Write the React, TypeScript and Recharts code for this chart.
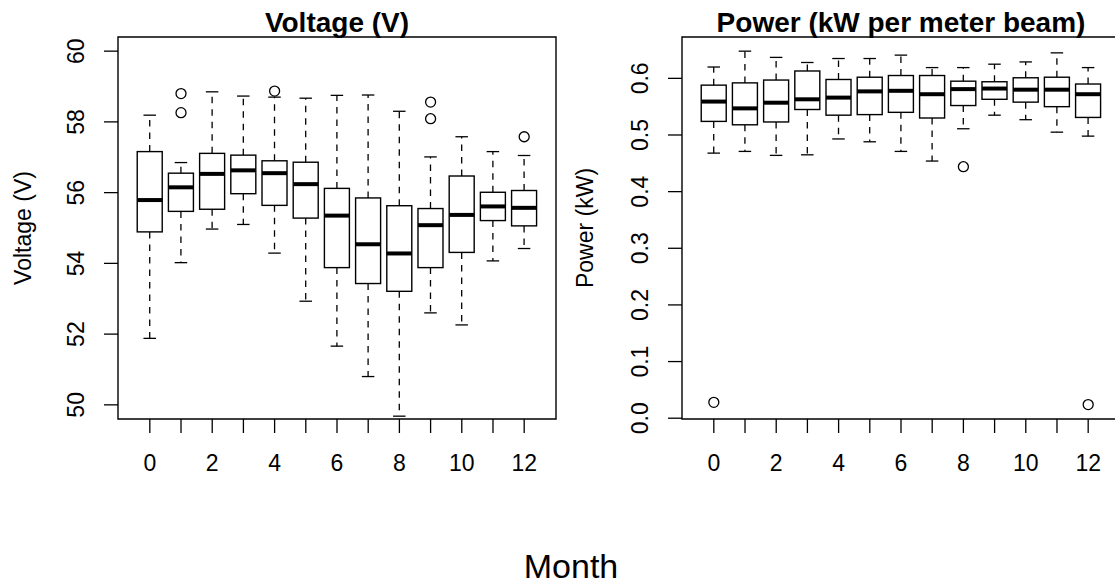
import React from 'react';
import { ComposedChart, Bar, Scatter, XAxis, YAxis, ReferenceArea } from 'recharts';

// ---- data ----
const months = [0, 1, 2, 3, 4, 5, 6, 7, 8, 9, 10, 11, 12];

const voltMin = [51.88, 54.02, 54.97, 55.10, 54.29, 52.93, 51.66, 50.80, 49.68, 52.60, 52.26, 54.07, 54.42];
const voltQ1 = [54.89, 55.47, 55.53, 55.97, 55.64, 55.28, 53.88, 53.43, 53.21, 53.88, 54.31, 55.21, 55.06];
const voltMed = [55.79, 56.15, 56.53, 56.63, 56.55, 56.24, 55.35, 54.54, 54.28, 55.08, 55.37, 55.61, 55.57];
const voltQ3 = [57.16, 56.55, 57.11, 57.06, 56.90, 56.86, 56.12, 55.85, 55.63, 55.55, 56.47, 56.01, 56.06];
const voltMax = [58.19, 56.85, 58.85, 58.73, 58.70, 58.67, 58.75, 58.76, 58.30, 57.01, 57.58, 57.16, 57.05];
const voltOutMonths = [1, 1, 4, 9, 9, 12];
const voltOutValues = [58.80, 58.26, 58.87, 58.56, 58.09, 57.58];

const powerMin = [0.468, 0.471, 0.464, 0.465, 0.493, 0.488, 0.471, 0.454, 0.511, 0.535, 0.527, 0.505, 0.498];
const powerQ1 = [0.524, 0.518, 0.523, 0.545, 0.535, 0.536, 0.540, 0.530, 0.552, 0.563, 0.558, 0.550, 0.531];
const powerMed = [0.559, 0.547, 0.557, 0.563, 0.566, 0.577, 0.578, 0.572, 0.581, 0.582, 0.580, 0.580, 0.572];
const powerQ3 = [0.588, 0.592, 0.597, 0.613, 0.598, 0.602, 0.605, 0.605, 0.595, 0.594, 0.601, 0.602, 0.590];
const powerMax = [0.620, 0.648, 0.637, 0.628, 0.635, 0.635, 0.641, 0.619, 0.619, 0.625, 0.629, 0.645, 0.619];
const powerOutMonths = [0, 8, 12];
const powerOutValues = [0.028, 0.444, 0.024];

const voltTicks = [50, 52, 54, 56, 58, 60];
const powerTicks = [0, 0.1, 0.2, 0.3, 0.4, 0.5, 0.6];

const FONT = '"Liberation Sans", Arial, Helvetica, sans-serif';
const TICK_FS = 23;

const buildRows = (lo: number[], q1: number[], med: number[], q3: number[], hi: number[]) =>
  months.map((m, i) => ({ month: m, lo: lo[i], q1: q1[i], med: med[i], q3: q3[i], hi: hi[i] }));

const buildOut = (ms: number[], vs: number[]) => ms.map((m, i) => ({ month: m, value: vs[i] }));

const BoxShape = (props: any) => {
  const { x, y, width, height, payload } = props;
  if (!payload || x == null || y == null) return null;
  const top = Math.min(y, y + height);
  const h = Math.abs(height);
  const k = h / (payload.hi - payload.lo);
  const py = (v: number) => top + (payload.hi - v) * k;
  const cx = x + width / 2;
  const cap = width / 4;
  const sw = 1.3;
  return (
    <g>
      <line x1={cx} x2={cx} y1={py(payload.q3)} y2={py(payload.hi)} stroke="#000" strokeWidth={sw} strokeDasharray="6.5 6" />
      <line x1={cx} x2={cx} y1={py(payload.q1)} y2={py(payload.lo)} stroke="#000" strokeWidth={sw} strokeDasharray="6.5 6" />
      <line x1={cx - cap} x2={cx + cap} y1={py(payload.hi)} y2={py(payload.hi)} stroke="#000" strokeWidth={sw} />
      <line x1={cx - cap} x2={cx + cap} y1={py(payload.lo)} y2={py(payload.lo)} stroke="#000" strokeWidth={sw} />
      <rect x={x} y={py(payload.q3)} width={width} height={py(payload.q1) - py(payload.q3)} fill="#fff" stroke="#000" strokeWidth={1.4} />
      <line x1={x} x2={x + width} y1={py(payload.med)} y2={py(payload.med)} stroke="#000" strokeWidth={4} />
    </g>
  );
};

const OutlierShape = (props: any) => {
  const { cx, cy } = props;
  if (cx == null || cy == null) return null;
  return <circle cx={cx} cy={cy} r={5} fill="none" stroke="#000" strokeWidth={1.3} />;
};

const XTick = (props: any) => {
  const { x, y, payload } = props;
  const v = payload.value;
  if (v % 2 !== 0) return null;
  return (
    <text x={x} y={y + 37.7} textAnchor="middle" fontFamily={FONT} fontSize={TICK_FS} fill="#000">
      {String(v)}
    </text>
  );
};

const makeYTick = (fmt: (v: number) => string) => (props: any) => {
  const { x, y, payload } = props;
  const bx = x - 20;
  return (
    <text x={bx} y={y} transform={`rotate(-90 ${bx} ${y})`} textAnchor="middle" fontFamily={FONT} fontSize={TICK_FS} fill="#000">
      {fmt(payload.value)}
    </text>
  );
};

interface PanelProps {
  rows: any[];
  outliers: any[];
  yDomain: [number, number];
  yTicks: number[];
  fmt: (v: number) => string;
  yAxisWidth: number;
  rightMargin: number;
}

const XDOMAIN: [number, number] = [-1.02, 13.02];

const Panel = ({ rows, outliers, yDomain, yTicks, fmt, yAxisWidth, rightMargin }: PanelProps) => (
  <ComposedChart
    width={600}
    height={480}
    data={rows}
    margin={{ top: 37, right: rightMargin, bottom: 6, left: 0 }}
  >
    <XAxis
      dataKey="month"
      type="number"
      domain={XDOMAIN}
      ticks={months}
      interval={0}
      allowDataOverflow
      axisLine={false}
      tickSize={14}
      tickMargin={0}
      tickLine={{ stroke: '#000', strokeWidth: 1.3 }}
      tick={<XTick />}
      height={55}
    />
    <YAxis
      type="number"
      domain={yDomain}
      ticks={yTicks}
      interval={0}
      allowDataOverflow
      axisLine={false}
      tickSize={14}
      tickMargin={0}
      tickLine={{ stroke: '#000', strokeWidth: 1.3 }}
      tick={makeYTick(fmt)}
      width={yAxisWidth}
    />
    <ReferenceArea
      x1={XDOMAIN[0]}
      x2={XDOMAIN[1]}
      y1={yDomain[0]}
      y2={yDomain[1]}
      fill="none"
      fillOpacity={0}
      stroke="#000"
      strokeWidth={1.4}
      ifOverflow="visible"
    />
    <Bar
      dataKey={(d: any) => [d.lo, d.hi]}
      barSize={25}
      shape={<BoxShape />}
      isAnimationActive={false}
    />
    <Scatter data={outliers} dataKey="value" shape={<OutlierShape />} isAnimationActive={false} />
  </ComposedChart>
);

export default function App() {
  const voltRows = buildRows(voltMin, voltQ1, voltMed, voltQ3, voltMax);
  const powerRows = buildRows(powerMin, powerQ1, powerMed, powerQ3, powerMax);
  const voltOut = buildOut(voltOutMonths, voltOutValues);
  const powerOut = buildOut(powerOutMonths, powerOutValues);
  return (
    <div
      style={{
        position: 'absolute',
        left: 0,
        top: 0,
        width: 1115,
        height: 586,
        overflow: 'hidden',
        background: '#fff',
        fontFamily: FONT,
      }}
    >
      <div style={{ position: 'absolute', left: 0, top: 0 }}>
        <Panel
          rows={voltRows}
          outliers={voltOut}
          yDomain={[49.6, 60.4]}
          yTicks={voltTicks}
          fmt={(v) => String(v)}
          yAxisWidth={118}
          rightMargin={44}
        />
      </div>
      <div style={{ position: 'absolute', left: 560, top: 0 }}>
        <Panel
          rows={powerRows}
          outliers={powerOut}
          yDomain={[-0.0014, 0.673]}
          yTicks={powerTicks}
          fmt={(v) => v.toFixed(1)}
          yAxisWidth={122}
          rightMargin={40}
        />
      </div>
      <svg
        width={1115}
        height={586}
        style={{ position: 'absolute', left: 0, top: 0, pointerEvents: 'none' }}
      >
        <text x={337} y={32} textAnchor="middle" fontFamily={FONT} fontWeight="bold" fontSize={28} fill="#000">
          Voltage (V)
        </text>
        <text x={901} y={32} textAnchor="middle" fontFamily={FONT} fontWeight="bold" fontSize={28} fill="#000">
          Power (kW per meter beam)
        </text>
        <text x={31} y={228} transform="rotate(-90 31 228)" textAnchor="middle" fontFamily={FONT} fontSize={23} fill="#000">
          Voltage (V)
        </text>
        <text x={593} y={228} transform="rotate(-90 593 228)" textAnchor="middle" fontFamily={FONT} fontSize={23} fill="#000">
          Power (kW)
        </text>
        <text x={571} y={578} textAnchor="middle" fontFamily={FONT} fontSize={34} fill="#000">
          Month
        </text>
      </svg>
    </div>
  );
}
